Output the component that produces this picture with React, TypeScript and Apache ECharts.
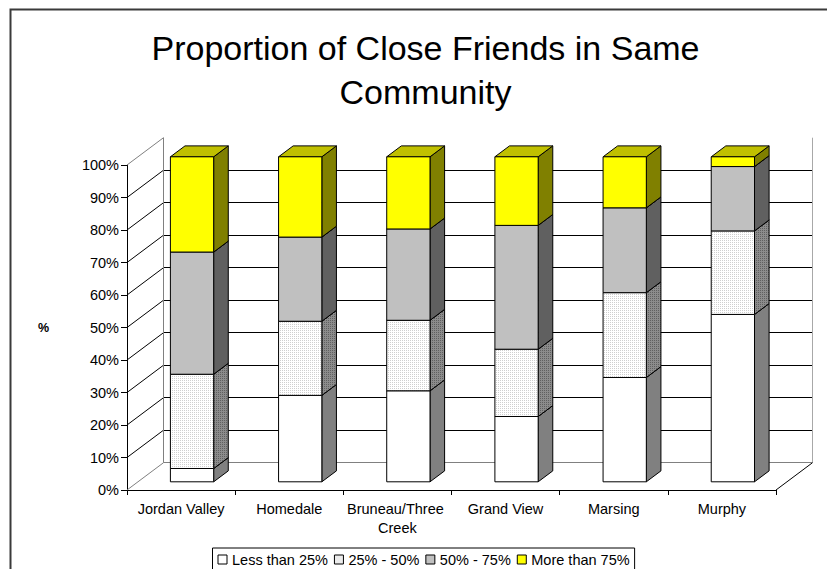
import React, { useEffect, useRef } from 'react';
import * as echarts from 'echarts';

// ---------- data ----------
const categories = ['Jordan Valley', 'Homedale', 'Bruneau/Three Creek', 'Grand View', 'Marsing', 'Murphy'];
const seriesNames = ['Less than 25%', '25% - 50%', '50% - 75%', 'More than 75%'];
const lessThan25 = [4.1, 26.6, 28.0, 20.1, 32.1, 51.5];
const from25to50 = [29.0, 22.8, 21.7, 20.7, 26.1, 25.7];
const from50to75 = [37.6, 25.9, 28.1, 38.1, 26.1, 19.8];
const moreThan75 = [29.3, 24.7, 22.2, 21.1, 15.7, 3.0];
const yTicks = [0, 10, 20, 30, 40, 50, 60, 70, 80, 90, 100];
const titleText = 'Proportion of Close Friends in Same\nCommunity';
const yAxisName = '%';

// ---------- layout / style constants ----------
const FONT = '"Liberation Sans", Arial, sans-serif';
const GRID = { left: 127, top: 165, width: 649, height: 325 };
const DX = 36.5; // wall depth (x)
const DY = -27.3; // wall depth (y)
const BAR_FRONT = 0.3; // bar front face position in depth fraction
const BAR_DEPTH = 0.4; // bar depth as fraction of wall depth
const BAR_WIDTH = 0.4; // bar width as fraction of category band

function makeDots(bg: string, dot: string) {
  const c = document.createElement('canvas');
  c.width = 2;
  c.height = 2;
  const ctx = c.getContext('2d')!;
  ctx.fillStyle = bg;
  ctx.fillRect(0, 0, 2, 2);
  ctx.fillStyle = dot;
  ctx.fillRect(0, 0, 1, 1);
  return c;
}

export default function App() {
  const ref = useRef<HTMLDivElement>(null);

  useEffect(() => {
    if (!ref.current) return;
    const chart = echarts.init(ref.current, null, { renderer: 'svg' });

    const layers = [lessThan25, from25to50, from50to75, moreThan75];
    const bases: number[][] = [];
    layers.forEach((arr, k) => {
      bases.push(arr.map((_, i) => (k === 0 ? 0 : bases[k - 1][i] + layers[k - 1][i])));
    });

    const dotFront = { image: makeDots('#ffffff', '#cfcfcf'), repeat: 'repeat' };
    const dotSide = { image: makeDots('#8c8c8c', '#606060'), repeat: 'repeat' };

    const faces = [
      { front: '#ffffff', side: '#808080', top: '#e0e0e0', legend: '#ffffff' },
      { front: dotFront, side: dotSide, top: '#d0d0d0', legend: '#ececec' },
      { front: '#c0c0c0', side: '#606060', top: '#a0a0a0', legend: '#c0c0c0' },
      { front: '#ffff00', side: '#808000', top: '#c0c000', legend: '#ffff00' },
    ];

    const barSeries = layers.map((arr, k) => ({
      type: 'custom',
      name: seriesNames[k],
      coordinateSystem: 'cartesian2d',
      xAxisIndex: 0,
      yAxisIndex: 0,
      z: 10,
      itemStyle: { color: faces[k].legend },
      encode: { x: 0, y: [1, 2] },
      data: arr.map((v, i) => [i, bases[k][i], bases[k][i] + v]),
      renderItem: (params: any, api: any) => {
        const c = api.value(0);
        const v0 = api.value(1);
        const v1 = api.value(2);
        const p0 = api.coord([c, v0]);
        const p1 = api.coord([c, v1]);
        const band = api.size([1, 0])[0];
        const w = band * BAR_WIDTH;
        const fx = DX * BAR_FRONT;
        const fy = DY * BAR_FRONT;
        const bx = DX * BAR_DEPTH;
        const by = DY * BAR_DEPTH;
        const L = p0[0] - w / 2 + fx;
        const R = L + w;
        const yb = p0[1] + fy;
        const yt = p1[1] + fy;
        const f = faces[k];
        return {
          type: 'group',
          children: [
            {
              type: 'polygon',
              shape: { points: [[R, yb], [R + bx, yb + by], [R + bx, yt + by], [R, yt]] },
              style: { fill: f.side, stroke: '#000', lineWidth: 1 },
            },
            {
              type: 'polygon',
              shape: { points: [[L, yt], [R, yt], [R + bx, yt + by], [L + bx, yt + by]] },
              style: { fill: f.top, stroke: '#000', lineWidth: 1 },
            },
            {
              type: 'rect',
              shape: { x: L, y: yt, width: w, height: yb - yt },
              style: { fill: f.front, stroke: '#000', lineWidth: 1 },
            },
          ],
        };
      },
    }));

    const frameSeries = {
      type: 'custom',
      name: 'frame',
      coordinateSystem: 'cartesian2d',
      xAxisIndex: 0,
      yAxisIndex: 0,
      z: 1,
      silent: true,
      data: [[0, 0]],
      renderItem: (params: any, api: any) => {
        const cs = params.coordSys;
        const x0 = cs.x;
        const x1 = cs.x + cs.width;
        const yb = cs.y + cs.height;
        const children: any[] = [];
        yTicks.forEach((v) => {
          const y = api.coord([0, v])[1];
          const edge = v === yTicks[0] || v === yTicks[yTicks.length - 1];
          children.push({
            type: 'line',
            shape: { x1: x0, y1: y, x2: x0 + DX, y2: y + DY },
            style: { stroke: edge ? '#808080' : '#000', lineWidth: 1 },
          });
        });
        children.push({
          type: 'line',
          shape: { x1: x0 + DX, y1: cs.y + DY, x2: x0 + DX, y2: yb + DY },
          style: { stroke: '#808080', lineWidth: 1 },
        });
        children.push({
          type: 'line',
          shape: { x1: x1 + DX, y1: cs.y + DY, x2: x1 + DX, y2: yb + DY },
          style: { stroke: '#a8a8a8', lineWidth: 1 },
        });
        children.push({
          type: 'line',
          shape: { x1: x1, y1: yb, x2: x1 + DX, y2: yb + DY },
          style: { stroke: '#000', lineWidth: 1 },
        });
        return { type: 'group', children };
      },
    };

    const splitColors = yTicks.map((v, i) => (i === 0 ? '#808080' : '#000000'));

    chart.setOption({
      animation: false,
      backgroundColor: '#ffffff',
      textStyle: { fontFamily: FONT },
      title: {
        text: titleText,
        left: 425.5,
        top: 26,
        padding: 0,
        textAlign: 'center',
        textStyle: { fontFamily: FONT, fontSize: 34, fontWeight: 'normal', color: '#000', lineHeight: 44 },
      },
      legend: {
        left: 212.5,
        top: 548,
        padding: [4, 5, 4, 5],
        borderColor: '#000',
        borderWidth: 1,
        itemWidth: 9,
        itemHeight: 9,
        itemGap: 6,
        icon: 'rect',
        selectedMode: false,
        textStyle: { fontFamily: FONT, fontSize: 14.5, color: '#000' },
        data: seriesNames.map((n, k) => ({
          name: n,
          itemStyle: { color: faces[k].legend, borderColor: '#000', borderWidth: 1 },
        })),
      },
      graphic: [
        {
          type: 'rect',
          shape: { x: 10.5, y: 9.5, width: 840, height: 580 },
          style: { fill: 'none', stroke: '#3a3a3a', lineWidth: 2 },
          silent: true,
        },
      ],
      grid: [
        { left: GRID.left, top: GRID.top, width: GRID.width, height: GRID.height },
        { left: GRID.left + DX, top: GRID.top + DY, width: GRID.width, height: GRID.height },
      ],
      xAxis: [
        {
          type: 'category',
          gridIndex: 0,
          data: categories,
          boundaryGap: true,
          axisLine: { show: true, lineStyle: { color: '#000', width: 1 } },
          axisTick: { show: true, length: 5, interval: 0, lineStyle: { color: '#000' } },
          axisLabel: {
            interval: 0,
            margin: 9,
            color: '#000',
            fontFamily: FONT,
            fontSize: 14.5,
            lineHeight: 19,
            width: 104,
            overflow: 'break',
          },
          splitLine: { show: false },
        },
        { type: 'category', gridIndex: 1, data: categories, show: false },
      ],
      yAxis: [
        {
          type: 'value',
          gridIndex: 0,
          min: 0,
          max: 100,
          interval: 10,
          name: yAxisName,
          nameLocation: 'middle',
          nameGap: 78,
          nameRotate: 0,
          nameTextStyle: { fontFamily: FONT, fontSize: 12.5, fontWeight: 'bold', color: '#000' },
          axisLine: { show: true, lineStyle: { color: '#000', width: 1 } },
          axisTick: { show: true, length: 6, lineStyle: { color: '#000' } },
          axisLabel: { formatter: '{value}%', margin: 8, color: '#000', fontFamily: FONT, fontSize: 14.5 },
          splitLine: { show: false },
        },
        {
          type: 'value',
          gridIndex: 1,
          min: 0,
          max: 100,
          interval: 10,
          axisLine: { show: false },
          axisTick: { show: false },
          axisLabel: { show: false },
          splitLine: { show: true, showMaxLine: false, lineStyle: { color: splitColors, width: 1 } },
        },
      ],
      series: [frameSeries, ...barSeries],
    });

    return () => chart.dispose();
  }, []);

  return (
    <div
      ref={ref}
      style={{ position: 'fixed', left: 0, top: 0, width: 827, height: 569, background: '#fff' }}
    />
  );
}
